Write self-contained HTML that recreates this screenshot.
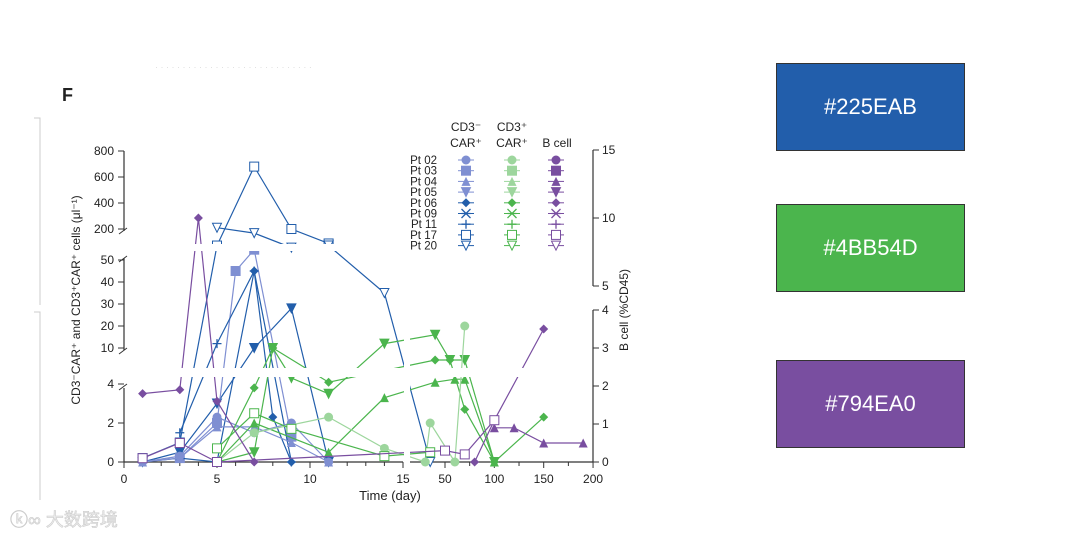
<!DOCTYPE html>
<html><head><meta charset="utf-8"><style>
body{margin:0;background:#fff;width:1080px;height:539px;overflow:hidden;font-family:"Liberation Sans","Noto Sans CJK SC",sans-serif}
.sw{position:absolute;left:776px;width:189px;height:88px;color:#fff;font-size:22px;display:flex;align-items:center;justify-content:center;box-sizing:border-box;border:1px solid #333}
</style></head><body>
<svg id="chart" width="1080" height="539" style="position:absolute;left:0;top:0" font-family="Liberation Sans, sans-serif">
<text x="62" y="101" font-size="18" font-weight="bold" fill="#222">F</text>
<text x="155" y="70" font-size="9" fill="#ddd">· · · · · · · · · · · · · · · · · · · · · · · · · · · · ·</text>
<path d="M34 118 H40 V305 M34 312 H40 V500" stroke="#ccc" fill="none"/>
<g id="axes"></g><g id="marks"></g><g id="legend"></g>
<text x="0" y="0" transform="translate(80,300) rotate(-90)" text-anchor="middle" font-size="12" fill="#222">CD3⁻CAR⁺ and CD3⁺CAR⁺ cells (μl⁻¹)</text>
<text x="0" y="0" transform="translate(628,310) rotate(-90)" text-anchor="middle" font-size="12" fill="#222">B cell (%CD45)</text>
<text x="390" y="500" text-anchor="middle" font-size="13" fill="#222">Time (day)</text>
<text x="10" y="526" font-size="18" fill="#eee" stroke="#ccc" stroke-width="0.6">ⓚ∞ 大数跨境</text>
</svg>
<div class="sw" style="top:63px;background:#225EAB">#225EAB</div>
<div class="sw" style="top:204px;background:#4BB54D">#4BB54D</div>
<div class="sw" style="top:360px;background:#794EA0">#794EA0</div>
<script>
const NS="http://www.w3.org/2000/svg";
const yTicksLeft=[0,2,4,10,20,30,40,50,200,400,600,800];
const yTicksRight=[0,1,2,3,4,5,10,15];
const xTicks1=[0,5,10,15];
const xTicks2=[50,100,150,200];
// series: days, values, axis
const s_b17_d=[1,3,5,7,9,11];const s_b17_v=[0.2,1,120,680,200,130];
const s_b20_d=[5,7,9,11,14,35];const s_b20_v=[210,180,110,120,35,0];
const s_b05_d=[1,3,5,7,9,11];const s_b05_v=[0,0.5,3,10,28,0];
const s_b03_d=[3,5,6,7,9];const s_b03_v=[0.2,2,45,100,1.3];
const s_b06_d=[1,3,5,7,8,9];const s_b06_v=[0,0.2,0,45,2.3,0];
const s_b11_d=[3,5,7,9];const s_b11_v=[1.5,12,45,0];
const s_b02_d=[1,3,5,7,9,11];const s_b02_v=[0,0.3,2.3,1.5,2,0];
const s_b04_d=[1,3,5,7,9,11];const s_b04_v=[0,0.2,1.8,1.8,1.0,0];
const s_g05_d=[5,7,8,9,11,14,40,55,70,100];const s_g05_v=[0,0.5,10,5,3.5,12,16,8,8,0];
const s_g06_d=[5,7,8,11,40,55,70,100,150];const s_g06_v=[0,3.8,10,4.3,8,8,2.7,0,2.3];
const s_g04_d=[5,7,11,14,40,60,70,100];const s_g04_v=[0,2,0.5,3.3,4.3,4.8,4.8,0];
const s_g02_d=[5,7,11,14,30,35,60,70];const s_g02_v=[0,1.5,2.3,0.7,0,2,0,20];
const s_g17_d=[5,7,9,14,35];const s_g17_v=[0.7,2.5,1.7,0.3,0.5];
const s_p06_d=[1,3,4,5,7];const s_p06_v=[1.8,1.9,10,1.6,0];
const s_p06b_d=[80,100,150];const s_p06b_v=[0,1.1,3.5];
const s_p04_d=[100,120,150,190];const s_p04_v=[0.9,0.9,0.5,0.5];
const s_p17_d=[1,3,5,50,70,100];const s_p17_v=[0.1,0.5,0,0.3,0.2,1.1];

function xs(d){ if(d<=15) return 124+d*18.6; return 445+(d-50)*0.987; }
function ysL(v){
 if(v<=4) return 462-v*19.5;
 if(v<=10) return 384-(v-4)/6*36;
 if(v<=50) return 348-(v-10)*2.2;
 if(v<=200) return 260-(v-50)/150*31;
 return 229-(v-200)*0.13;
}
function ysR(v){ if(v<=4) return 462-v*38; if(v<=5) return 310-(v-4)*24; return 286-(v-5)*13.6; }
function mk(tag,attrs,parent){const e=document.createElementNS(NS,tag);for(const k in attrs)e.setAttribute(k,attrs[k]);parent.appendChild(e);return e;}
const ax=document.getElementById('axes'),mg=document.getElementById('marks'),lg=document.getElementById('legend');
const A={stroke:'#333','stroke-width':1.2,fill:'none'};
// left axis
let p=mk('path',Object.assign({d:'M124 462 V388 M124 350 V258 M124 231 V151'},A),ax);

yTicksLeft.forEach(v=>{const y=ysL(v);mk('line',{x1:118,x2:124,y1:y,y2:y,stroke:'#333'},ax);
 const t=mk('text',{x:114,y:y+4,'text-anchor':'end','font-size':12,fill:'#222'},ax);t.textContent=v;
 });
mk('path',{d:'M119 390 l8 -6 M119 354 l8 -6 M119 262 l8 -6 M119 234 l8 -6',stroke:'#333',fill:'none'},ax);
// right axis
p=mk('path',Object.assign({d:'M593 462 V310 M593 286 V150'},A),ax);

yTicksRight.forEach(v=>{const y=ysR(v);mk('line',{x1:593,x2:599,y1:y,y2:y,stroke:'#333'},ax);
 const t=mk('text',{x:602,y:y+4,'font-size':12,fill:'#222'},ax);t.textContent=v;
 });
// x axis
p=mk('path',Object.assign({d:'M124 462 H403 M410 462 H593'},A),ax);

for(let d=0;d<=15;d++){mk('line',{x1:xs(d),x2:xs(d),y1:462,y2:d%5?466:468,stroke:'#333'},ax);}
for(let d=50;d<=200;d+=25){mk('line',{x1:xs(d),x2:xs(d),y1:462,y2:d%50?466:468,stroke:'#333'},ax);}
xTicks1.concat(xTicks2).forEach(d=>{const t=mk('text',{x:xs(d),y:483,'text-anchor':'middle','font-size':12,fill:'#222'},ax);t.textContent=d;
 });
// markers
function marker(sh,x,y,c,g){const r=4.5;let e;
 if(sh=='circle')e=mk('circle',{cx:x,cy:y,r:r,fill:c},g);
 else if(sh=='square'||sh=='osquare')e=mk('rect',{x:x-r,y:y-r,width:2*r,height:2*r,fill:sh=='square'?c:'#fff',stroke:c},g);
 else if(sh=='tri')e=mk('path',{d:`M${x} ${y-r} L${x+r} ${y+r} L${x-r} ${y+r}Z`,fill:c},g);
 else if(sh=='dtri'||sh=='odtri')e=mk('path',{d:`M${x-r} ${y-r} L${x+r} ${y-r} L${x} ${y+r}Z`,fill:sh=='dtri'?c:'#fff',stroke:c},g);
 else if(sh=='dia')e=mk('path',{d:`M${x} ${y-r} L${x+r} ${y} L${x} ${y+r} L${x-r} ${y}Z`,fill:c},g);
 else if(sh=='plus')e=mk('path',{d:`M${x-r} ${y} H${x+r} M${x} ${y-r} V${y+r}`,stroke:c,'stroke-width':1.3},g);
 else e=mk('path',{d:`M${x-r} ${y-r} L${x+r} ${y+r} M${x+r} ${y-r} L${x-r} ${y+r} M${x-r} ${y} H${x+r}`,stroke:c,'stroke-width':1.3},g);
 return e;}
const B='#225EAB',LB='#7f8fd2',G='#4BB54D',LG='#9dd69d',P='#794EA0';
const series=[
 ['pt17-cd3neg',s_b17_d,s_b17_v,B,'osquare','L'],['pt20-cd3neg',s_b20_d,s_b20_v,B,'odtri','L'],
 ['pt05-cd3neg',s_b05_d,s_b05_v,B,'dtri','L'],['pt03-cd3neg',s_b03_d,s_b03_v,LB,'square','L'],
 ['pt06-cd3neg',s_b06_d,s_b06_v,B,'dia','L'],['pt11-cd3neg',s_b11_d,s_b11_v,B,'plus','L'],
 ['pt02-cd3neg',s_b02_d,s_b02_v,LB,'circle','L'],['pt04-cd3neg',s_b04_d,s_b04_v,LB,'tri','L'],
 ['pt05-cd3pos',s_g05_d,s_g05_v,G,'dtri','L'],['pt06-cd3pos',s_g06_d,s_g06_v,G,'dia','L'],
 ['pt04-cd3pos',s_g04_d,s_g04_v,G,'tri','L'],['pt02-cd3pos',s_g02_d,s_g02_v,LG,'circle','L'],
 ['pt17-cd3pos',s_g17_d,s_g17_v,G,'osquare','L'],
 ['pt06-bcell',s_p06_d,s_p06_v,P,'dia','R'],['pt06-bcell-late',s_p06b_d,s_p06b_v,P,'dia','R'],
 ['pt04-bcell',s_p04_d,s_p04_v,P,'tri','R'],['pt17-bcell',s_p17_d,s_p17_v,P,'osquare','R']];
series.forEach(([n,ds,vs,c,sh,a])=>{const g=mk('g',{},mg);
 
 const f=a=='L'?ysL:ysR;
 const pts=ds.map((d,i)=>[xs(d),f(vs[i])]);
 mk('polyline',{points:pts.map(q=>q.join(',')).join(' '),fill:'none',stroke:c,'stroke-width':1.2},g);
 pts.forEach(q=>{const e=marker(sh,q[0],q[1],c,g);});});
// axis break gaps
mk('rect',{x:125,y:368,width:466,height:9,fill:'#fff'},mg);
mk('rect',{x:125,y:244,width:466,height:7,fill:'#fff'},mg);
mk('rect',{x:404,y:150,width:6,height:311,fill:'#fff'},mg);
// legend
const pts=['Pt 02','Pt 03','Pt 04','Pt 05','Pt 06','Pt 09','Pt 11','Pt 17','Pt 20'];
const shapes=['circle','square','tri','dtri','dia','star','plus','osquare','odtri'];
const hdr=[['CD3⁻',466,131],['CAR⁺',466,147],['CD3⁺',512,131],['CAR⁺',512,147],['B cell',557,147]];
hdr.forEach(h=>{const t=mk('text',{x:h[1],y:h[2],'text-anchor':'middle','font-size':12,fill:'#222'},lg);t.textContent=h[0];
 });
pts.forEach((n,i)=>{const y=160+i*10.7;
 const t=mk('text',{x:437,y:y+4,'text-anchor':'end','font-size':11.5,fill:'#222'},lg);t.textContent=n;
 
 [[466,i<4?LB:B],[512,i<4?LG:G],[556,P]].forEach(([x,c])=>{mk('line',{x1:x-8,x2:x+8,y1:y,y2:y,stroke:c},lg);marker(shapes[i],x,y,c,lg);});});
</script>
</body></html>
